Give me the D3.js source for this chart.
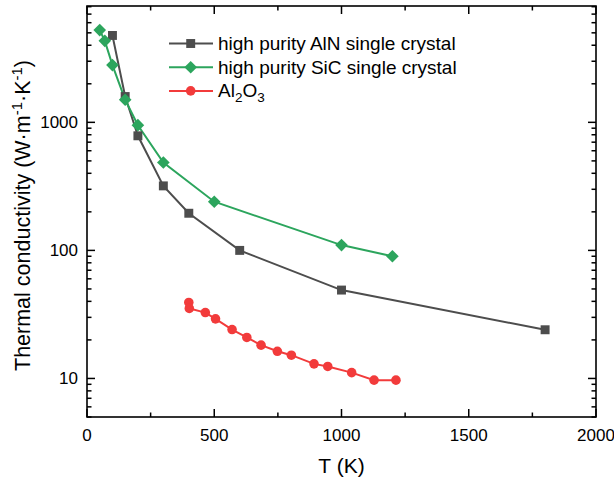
<!DOCTYPE html>
<html>
<head>
<meta charset="utf-8">
<script src="https://cdn.jsdelivr.net/npm/d3@7/dist/d3.min.js"></script>
<style>
  html, body { margin: 0; padding: 0; background: #fff; }
  svg { display: block; font-family: "Liberation Sans", Arial, sans-serif; }
</style>
</head>
<body>
<svg id="chart" width="614" height="481"></svg>
<script>
// Thermal conductivity vs temperature
const alnT = [100, 150, 200, 300, 400, 600, 1000, 1800];
const alnK = [4770, 1590, 785, 319, 195, 100, 49, 24];

const sicT = [50, 70, 100, 150, 200, 300, 500, 1000, 1200];
const sicK = [5250, 4330, 2800, 1500, 950, 486, 240, 110, 90];

const alT = [400, 402, 465, 505, 570, 628, 684, 748, 803, 892, 946, 1040, 1128, 1214];
const alK = [39.2, 35.2, 32.7, 29.2, 24.1, 20.9, 18.2, 16.3, 15.2, 13.0, 12.4, 11.1, 9.7, 9.7];

const xTicks = [0, 500, 1000, 1500, 2000];
const yTicks = [10, 100, 1000];

const seriesNames = ["high purity AlN single crystal", "high purity SiC single crystal", "Al2O3"];
const seriesColors = ["#4d4d4d", "#2ca55d", "#f23b3b"];

const svg = d3.select("#chart");
const margin = {left: 87, right: 18, top: 6, bottom: 64};
const W = 614, H = 481;

const x = d3.scaleLinear().domain([0, 2000]).range([margin.left, W - margin.right]);
const y = d3.scaleLog().domain([5, 8100]).range([H - margin.bottom, margin.top]);

const x0 = x.range()[0], x1 = x.range()[1];
const y0 = y.range()[0], y1 = y.range()[1];

// minor ticks
const xMinor = d3.range(250, 2000, 500);
const yMinor = [];
[1, 10, 100, 1000].forEach(d => { for (let k = 2; k <= 9; k++) { const v = d * k; if (v >= 5 && v <= 8100) yMinor.push(v); } });

const axisG = svg.append("g").attr("stroke", "#000").attr("stroke-width", 1.5);
const major = 8, minor = 4.5;
// bottom and top ticks (inward)
xTicks.concat(xMinor).forEach(v => {
  const len = xTicks.includes(v) ? major : minor;
  axisG.append("line").attr("x1", x(v)).attr("x2", x(v)).attr("y1", y0).attr("y2", y0 - len);
  axisG.append("line").attr("x1", x(v)).attr("x2", x(v)).attr("y1", y1).attr("y2", y1 + len);
});
// left and right ticks (inward)
yTicks.concat(yMinor).forEach(v => {
  const len = yTicks.includes(v) ? major : minor;
  axisG.append("line").attr("x1", x0).attr("x2", x0 + len).attr("y1", y(v)).attr("y2", y(v));
  axisG.append("line").attr("x1", x1).attr("x2", x1 - len).attr("y1", y(v)).attr("y2", y(v));
});
// frame
svg.append("rect").attr("x", x0).attr("y", y1).attr("width", x1 - x0).attr("height", y0 - y1)
  .attr("fill", "none").attr("stroke", "#000").attr("stroke-width", 1.6);

// tick labels
svg.append("g").selectAll("text").data(xTicks).join("text")
  .attr("x", d => x(d)).attr("y", y0 + 24).attr("text-anchor", "middle")
  .attr("font-size", 17).attr("fill", "#000").text(d => d);
svg.append("g").selectAll("text").data(yTicks).join("text")
  .attr("x", x0 - 9).attr("y", d => y(d) + 6).attr("text-anchor", "end")
  .attr("font-size", 17).attr("fill", "#000").text(d => d);

// axis titles
svg.append("text").attr("x", (x0 + x1) / 2).attr("y", 473).attr("text-anchor", "middle")
  .attr("font-size", 21).text("T (K)");
const yt = svg.append("text").attr("transform", `translate(29.5,${(y0 + y1) / 2 + 4}) rotate(-90)`)
  .attr("text-anchor", "middle").attr("font-size", 21.5);
yt.append("tspan").text("Thermal conductivity (W·m");
yt.append("tspan").attr("dy", -8).attr("font-size", 15).text("-1");
yt.append("tspan").attr("dy", 8).text("·K");
yt.append("tspan").attr("dy", -8).attr("font-size", 15).text("-1");
yt.append("tspan").attr("dy", 8).text(")");

const line = d3.line().x(d => x(d[0])).y(d => y(d[1]));
const series = [
  {pts: d3.zip(alnT, alnK), shape: d3.symbolSquare, size: 80, rot: 0},
  {pts: d3.zip(sicT, sicK), shape: d3.symbolSquare, size: 80, rot: 45},
  {pts: d3.zip(alT, alK), shape: d3.symbolCircle, size: 72, rot: 0}
];

const plot = svg.append("g");
series.forEach((s, i) => {
  plot.append("path").attr("d", line(s.pts)).attr("fill", "none")
    .attr("stroke", seriesColors[i]).attr("stroke-width", 2);
});
series.forEach((s, i) => {
  plot.append("g").selectAll("path").data(s.pts).join("path")
    .attr("transform", d => `translate(${x(d[0])},${y(d[1])}) rotate(${s.rot})`)
    .attr("d", d3.symbol().type(s.shape).size(s.size))
    .attr("fill", seriesColors[i]);
});

// legend
const leg = svg.append("g");
series.forEach((s, i) => {
  const ly = 43.5 + i * 23.7;
  leg.append("line").attr("x1", 169).attr("x2", 213).attr("y1", ly).attr("y2", ly)
    .attr("stroke", seriesColors[i]).attr("stroke-width", 2);
  leg.append("path").attr("transform", `translate(190.7,${ly}) rotate(${s.rot})`)
    .attr("d", d3.symbol().type(s.shape).size(s.size)).attr("fill", seriesColors[i]);
  const t = leg.append("text").attr("x", 218).attr("y", ly + 6.5).attr("font-size", 19);
  if (i < 2) {
    t.text(seriesNames[i]);
  } else {
    t.append("tspan").text("Al");
    t.append("tspan").attr("dy", 5).attr("font-size", 13.5).text("2");
    t.append("tspan").attr("dy", -5).text("O");
    t.append("tspan").attr("dy", 5).attr("font-size", 13.5).text("3");
  }
});
</script>
</body>
</html>
